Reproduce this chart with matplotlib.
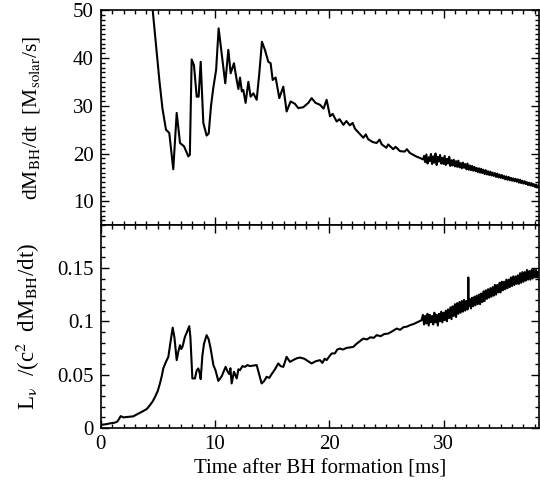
import numpy as np
import matplotlib
matplotlib.use("Agg")
import matplotlib.pyplot as plt
from matplotlib.ticker import MultipleLocator, FormatStrFormatter

plt.rcParams['font.family'] = ['Liberation Serif', 'DejaVu Serif']
plt.rcParams['mathtext.fontset'] = 'stix'
plt.rcParams['font.size'] = 15

# accretion rate dM_BH/dt [Msolar/s]
time_top = [3.0, 3.8, 4.3, 4.55, 5.13, 5.4, 5.71, 6.0, 6.35, 6.65, 6.94, 7.29, 7.67, 7.8,
            7.96, 8.16, 8.4, 8.57, 8.75, 8.98, 9.27, 9.45, 9.65, 9.85, 10.1, 10.32, 10.67,
            10.9, 11.17, 11.37, 11.66, 11.9, 12.05, 12.19, 12.35, 12.48, 12.68, 12.92, 13.12,
            13.36, 13.65, 13.88, 14.11, 14.37, 14.67, 14.87, 15.05, 15.31, 15.63, 15.98, 16.27,
            16.62, 17.0, 17.29, 17.73, 18.17, 18.46, 18.8, 19.19, 19.5, 19.77, 20.07, 20.3,
            20.65, 20.9, 21.24, 21.5, 21.8, 22.05, 22.25, 22.6, 22.98, 23.2, 23.4, 23.8, 24.15,
            24.4, 24.6, 25.0, 25.16, 25.6, 25.8, 26.19, 26.6, 26.8, 27.06, 27.6, 28.0, 28.22,
            28.3, 28.4, 28.5, 28.6, 28.7, 28.8, 28.9, 29.0, 29.1, 29.2, 29.3, 29.4, 29.5, 29.6,
            29.7, 29.8, 29.9, 30.0, 30.1, 30.2, 30.3, 30.4, 30.5, 30.6, 30.7, 30.8, 30.9, 31.0,
            31.1, 31.2, 31.3, 31.4, 31.5, 31.6, 31.7, 31.8, 31.9, 32.0, 32.1, 32.2, 32.3, 32.4,
            32.5, 32.6, 32.7, 32.8, 32.9, 33.0, 33.1, 33.2, 33.3, 33.4, 33.5, 33.6, 33.7, 33.8,
            33.9, 34.0, 34.1, 34.2, 34.3, 34.4, 34.5, 34.6, 34.7, 34.8, 34.9, 35.0, 35.1, 35.2,
            35.3, 35.4, 35.5, 35.6, 35.7, 35.8, 35.9, 36.0, 36.1, 36.2, 36.3, 36.4, 36.5, 36.6,
            36.7, 36.8, 36.9, 37.0, 37.1, 37.2, 37.3, 37.4, 37.5, 37.6, 37.7, 37.8, 37.9, 38.0,
            38.1, 38.2, 38.3]
mdot = [90, 70, 56, 50, 35.4, 29.5, 25, 24.3, 16.7, 28.5, 22.2, 21.5, 19.4, 19.7,
        39.7, 38.5, 31.9, 31.9, 39.2, 26.4, 23.75, 24.2, 29.9, 33.7, 37.5, 46.2, 39.2,
        34.7, 41.7, 36.8, 38.9, 35.4, 33.5, 35.9, 33.0, 33.3, 30.6, 35.0, 31.9,
        32.6, 31.25, 36.8, 43.4, 41.7, 39.2, 38.9, 35.4, 35.9, 31.6, 34.0, 28.8,
        30.9, 30.4, 29.5, 29.7, 30.6, 31.6, 30.6, 30.2, 29.4, 31.25, 27.8, 28.3,
        26.7, 27.2, 26.0, 26.8, 25.9, 26.4, 25.2, 24.3, 23.3, 24.0, 23.0, 22.4, 22.2,
        22.9, 21.9, 21.2, 21.9, 20.9, 21.4, 20.5, 20.4, 20.9, 20.1, 19.4, 19.0, 18.75,
        19.5, 18.2, 19.8, 17.9, 19.2, 18.4, 19.9, 17.8, 19.4, 18.1, 20.0, 17.6, 19.3, 18.3,
        19.7, 17.9, 19.1, 17.8, 19.5, 17.6, 18.9, 17.9, 19.3, 17.4, 18.6, 17.5, 18.7, 17.3,
        18.4, 17.2, 18.5, 17.1, 18.0, 16.9, 18.1, 17.0, 17.8, 16.7, 17.9, 16.6, 17.5, 16.5,
        17.4, 16.4, 17.2, 16.3, 17.0, 16.1, 16.9, 16.0, 16.8, 15.9, 16.6, 15.7, 16.5, 15.6,
        16.3, 15.5, 16.2, 15.4, 16.0, 15.3, 15.9, 15.1, 15.8, 15.0, 15.6, 14.9, 15.5, 14.8,
        15.3, 14.6, 15.2, 14.5, 15.1, 14.4, 14.9, 14.3, 14.8, 14.2, 14.7, 14.1, 14.6, 13.9,
        14.5, 13.8, 14.3, 13.7, 14.2, 13.6, 14.0, 13.4, 13.9, 13.3, 13.8, 13.2, 13.6, 13.0,
        13.5, 12.9, 13.3]

# neutrino luminosity over c^2 dM_BH/dt
time_bot = [0.0, 0.4, 0.82, 1.2, 1.45, 1.6, 1.75, 1.98, 2.4, 2.85, 3.3, 3.73, 4.05, 4.31,
            4.55, 4.75, 5.0, 5.19, 5.35, 5.48, 5.71, 5.92, 6.1, 6.3, 6.45, 6.65, 6.8, 6.94,
            7.05, 7.17, 7.37, 7.55, 7.75, 7.85, 8.02, 8.25, 8.4, 8.54, 8.65, 8.75, 8.9, 9.04,
            9.27, 9.45, 9.62, 9.86, 10.05, 10.29, 10.58, 10.93, 11.1, 11.25, 11.35, 11.46,
            11.66, 11.9, 12.05, 12.19, 12.4, 12.62, 12.85, 13.06, 13.35, 13.65, 14.08, 14.3,
            14.52, 14.75, 14.96, 15.25, 15.54, 15.75, 15.98, 16.27, 16.56, 16.9, 17.2, 17.44,
            17.8, 18.1, 18.46, 18.8, 19.19, 19.4, 19.6, 19.77, 20.0, 20.21, 20.5, 20.7, 20.94,
            21.2, 21.5, 21.8, 22.1, 22.4, 22.7, 22.98, 23.3, 23.6, 23.9, 24.15, 24.5, 24.8,
            25.16, 25.5, 25.9, 26.2, 26.5, 26.8, 27.06, 27.4, 27.7, 28.08,
            28.2, 28.3, 28.4, 28.5, 28.6, 28.7, 28.8, 28.9, 29.0, 29.1, 29.2, 29.3, 29.4, 29.5,
            29.6, 29.7, 29.8, 29.9, 30.0, 30.1, 30.2, 30.3, 30.4, 30.5, 30.6, 30.7, 30.8, 30.9,
            31.0, 31.1, 31.2, 31.3, 31.4, 31.5, 31.6, 31.7, 31.8, 31.9, 32.0, 32.1, 32.15, 32.17,
            32.19, 32.3, 32.4, 32.5, 32.6, 32.7, 32.8, 32.9, 33.0, 33.1, 33.2, 33.3, 33.4, 33.5,
            33.6, 33.7, 33.8, 33.9, 34.0, 34.1, 34.2, 34.3, 34.4, 34.5, 34.6, 34.7, 34.8, 34.9,
            35.0, 35.1, 35.2, 35.3, 35.4, 35.5, 35.6, 35.7, 35.8, 35.9, 36.0, 36.1, 36.2, 36.3,
            36.4, 36.5, 36.6, 36.7, 36.8, 36.9, 37.0, 37.1, 37.2, 37.3, 37.4, 37.5, 37.6, 37.7,
            37.8, 37.9, 38.0, 38.1, 38.2, 38.3]
lnu_ratio = [0.003, 0.0035, 0.0044, 0.005, 0.006, 0.0085, 0.0112, 0.010, 0.0105, 0.011, 0.0135,
             0.016, 0.018, 0.0215, 0.025, 0.029, 0.035, 0.042, 0.049, 0.056, 0.062, 0.0667,
             0.080, 0.094, 0.085, 0.0636, 0.072, 0.0776, 0.074, 0.0766, 0.0854, 0.090, 0.0954,
             0.085, 0.0465, 0.0465, 0.054, 0.0558, 0.052, 0.0458, 0.068, 0.079, 0.087, 0.083,
             0.0745, 0.059, 0.054, 0.0442, 0.0483, 0.0573, 0.053, 0.0505, 0.056, 0.0418, 0.0527,
             0.0465, 0.055, 0.0542, 0.058, 0.0573, 0.059, 0.058, 0.0585, 0.059, 0.0418, 0.044,
             0.048, 0.047, 0.0505, 0.055, 0.0605, 0.058, 0.0573, 0.0667, 0.062, 0.064, 0.0655,
             0.066, 0.065, 0.063, 0.0605, 0.0625, 0.0636, 0.061, 0.065, 0.0636, 0.067, 0.0698,
             0.070, 0.0735, 0.0745, 0.0735, 0.075, 0.0755, 0.076, 0.079, 0.0815, 0.0838, 0.083,
             0.085, 0.0845, 0.087, 0.086, 0.088, 0.0885, 0.0905, 0.0932, 0.092, 0.0945, 0.095,
             0.0963, 0.0975, 0.099, 0.101,
             0.106, 0.097, 0.105, 0.098, 0.107, 0.096, 0.106, 0.099, 0.105, 0.097, 0.108, 0.099,
             0.106, 0.096, 0.107, 0.100, 0.109, 0.099, 0.108, 0.101, 0.110, 0.100, 0.111, 0.103,
             0.113, 0.102, 0.114, 0.105, 0.116, 0.104, 0.117, 0.107, 0.118, 0.108, 0.119, 0.109,
             0.120, 0.110, 0.119, 0.111, 0.114, 0.141, 0.114, 0.121, 0.112, 0.122, 0.114, 0.123,
             0.115, 0.124, 0.116, 0.125, 0.116, 0.126, 0.118, 0.128, 0.119, 0.129, 0.121, 0.130,
             0.122, 0.131, 0.123, 0.132, 0.124, 0.134, 0.125, 0.134, 0.127, 0.136, 0.127, 0.137,
             0.129, 0.137, 0.130, 0.139, 0.131, 0.139, 0.132, 0.141, 0.133, 0.142, 0.134, 0.142,
             0.135, 0.143, 0.135, 0.145, 0.136, 0.146, 0.137, 0.146, 0.138, 0.148, 0.139, 0.147,
             0.139, 0.148, 0.140, 0.149, 0.141, 0.148, 0.141, 0.146]

fig = plt.figure(figsize=(5.4, 4.87), dpi=100)
gs = fig.add_gridspec(2, 1, height_ratios=[215, 203], hspace=0,
                      left=0.1865, right=0.998, top=0.979, bottom=0.121)
ax1 = fig.add_subplot(gs[0])
ax2 = fig.add_subplot(gs[1], sharex=ax1)

ax1.plot(time_top, mdot, color="black", lw=1.5)
ax2.plot(time_bot, lnu_ratio, color="black", lw=1.5)

ax1.set_xlim(0, 38.35)
ax1.set_ylim(5, 50)
ax2.set_ylim(0, 0.19)

ax1.yaxis.set_major_locator(MultipleLocator(10))
ax1.yaxis.set_minor_locator(MultipleLocator(1))
ax2.yaxis.set_major_locator(MultipleLocator(0.05))
ax2.yaxis.set_minor_locator(MultipleLocator(0.01))
ax2.yaxis.set_major_formatter(FormatStrFormatter('%g'))
ax2.xaxis.set_major_locator(MultipleLocator(10))
ax2.xaxis.set_minor_locator(MultipleLocator(1))

for ax in (ax1, ax2):
    ax.tick_params(which="both", direction="in", top=True, right=True, width=1)
    ax.tick_params(which="major", length=6, pad=5)
    ax.tick_params(which="minor", length=3)
    for s in ax.spines.values():
        s.set_linewidth(1.2)
plt.setp(ax1.get_xticklabels(), visible=False)

ax1.set_ylabel(r"dM$_{\mathrm{BH}}$/dt  [M$_{\mathrm{solar}}$/s]", fontsize=15.5, labelpad=11)
ax2.set_ylabel(r"L$_{\mathrm{\nu}}$  /(c$^{2}$  dM$_{\mathrm{BH}}$/dt)", fontsize=16.5, labelpad=11)
ax2.set_xlabel("Time after BH formation [ms]", labelpad=4)
fig.align_ylabels([ax1, ax2])

plt.savefig("out.png", dpi=100)
